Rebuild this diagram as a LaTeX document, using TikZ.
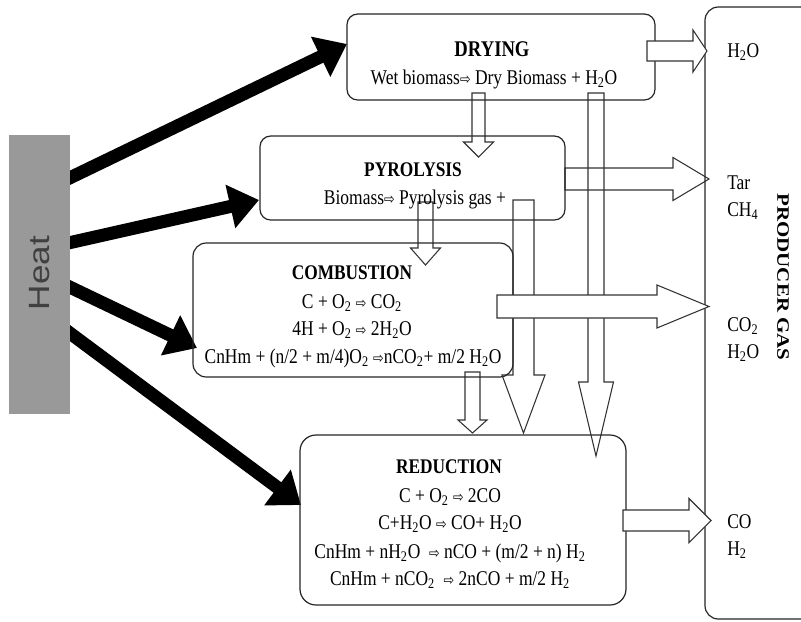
\documentclass[tikz,border=0pt]{standalone}
\usepackage{fontspec}
\usepackage{graphicx}
\setmainfont{Liberation Serif}
\newfontfamily\symf{DejaVu Sans}
\newfontfamily\heatf{Liberation Sans}
\usetikzlibrary{arrows.meta,fit}
\newcommand\vs[1]{\scalebox{1}[1.2]{#1}}
\newcommand\ar{{\symf\fontsize{9.5}{9.5}\selectfont ⇨}}
\newcommand\sub[1]{\textsubscript{#1}}
% horizontal block arrow: x0, x1 (head base), xtip, yc, shaft half, head half
\newcommand\hbarrow[7][]{\filldraw[barrow,#1] (#2,#5-#6) -- (#3,#5-#6) -- (#3,#5-#7) -- (#4,#5) -- (#3,#5+#7) -- (#3,#5+#6) -- (#2,#5+#6) -- cycle;}
% vertical block arrow: xc, y0, y1 (head base), ytip, shaft half, head half
\newcommand\vbarrow[7][]{\filldraw[barrow,#1] (#2-#6,#3) -- (#2-#6,#4) -- (#2-#7,#4) -- (#2,#5) -- (#2+#7,#4) -- (#2+#6,#4) -- (#2+#6,#3) -- cycle;}
\tikzset{
 box/.style={draw=black!85, line width=0.9pt, rounded corners=8pt, inner sep=0pt},
 barrow/.style={draw=black!80, line width=0.8pt, fill=white, line join=miter},
 heatarrow/.style={line width=9.75pt, -{Triangle[length=22pt,width=32pt]}},
 ttl/.style={font=\bfseries\fontsize{13}{15}\selectfont, anchor=base, inner sep=0pt},
 txt/.style={font=\fontsize{13.1}{15}\selectfont, anchor=base, inner sep=0pt},
 gtxt/.style={font=\fontsize{13.1}{15}\selectfont, anchor=base west, inner sep=0pt},
}
\begin{document}
\begin{tikzpicture}[x=0.75pt,y=-0.75pt]
\fill[white] (0,0) rectangle (801,622);
\useasboundingbox (0,0) rectangle (801,622);

% heat arrows
\coordinate (h1) at (55,185);
\coordinate (h2) at (55,246);
\coordinate (h3) at (55,280);
\coordinate (h4) at (55,322);
\coordinate (t1) at (347,44);
\coordinate (t2) at (259,200);
\coordinate (t3) at (197,348);
\coordinate (t4) at (301,505);
\draw[heatarrow] (h1) -- (t1);
\draw[heatarrow] (h2) -- (t2);
\draw[heatarrow] (h3) -- (t3);
\draw[heatarrow] (h4) -- (t4);

% heat block
\node[fill=black!40, inner sep=0pt, fit={(9,135)(70,414)}] (heat) {};
\node[rotate=90, font=\heatf\fontsize{22}{22}\selectfont, text=black!75] (heatlbl) at (40,273) {\scalebox{1.2}[1]{Heat}};

% block arrows (under boxes)
\vbarrow{596}{93}{382}{456}{8}{17.5}
\vbarrow{523.5}{200}{375}{433}{10.5}{21.5}
\hbarrow[fill=none]{565}{673}{709}{179}{11}{21.5}
\vbarrow{478.5}{93}{142}{157}{6.5}{15}
\vbarrow{425.5}{202}{248}{265}{7.5}{15}
\vbarrow{472.5}{372}{420}{433}{7.5}{14.5}

% boxes
\node[box, fit={(347,14)(655,100)}] (dry) {};
\node[box, fit={(260,136)(565,220)}] (pyr) {};
\node[box, rounded corners=10pt, fit={(193,243)(513,377)}] (comb) {};
\node[box, rounded corners=12pt, fit={(300,435)(626,605)}] (red) {};
\begin{scope}
\clip (0,0) rectangle (801,622);
\node[box, rounded corners=10pt, fit={(705,7)(860,619)}] (gas) {};
\end{scope}

% block arrows (over boxes)
\hbarrow{647}{693}{707}{51}{10}{21}
\hbarrow{497}{657}{709}{306.5}{11.5}{21.5}
\hbarrow{623}{689}{711}{520.5}{10.5}{22}

% texts
\node[ttl, font=\bfseries\fontsize{14}{16}\selectfont] (dryT) at (492,56) {\vs{DRYING}};
\node[txt] (dryL) at (494,84) {\vs{Wet biomass\ar{} Dry Biomass + H\sub{2}O}};
\node[ttl] (pyrT) at (413,176) {\vs{PYROLYSIS}};
\node[txt] (pyrL) at (415,204) {\vs{Biomass\ar{} Pyrolysis gas +}};
\node[ttl] (combT) at (352,279) {\vs{COMBUSTION}};
\node[txt] (combA) at (352,308) {\vs{C + O\sub{2} \ar{} CO\sub{2}}};
\node[txt] (combB) at (352,335) {\vs{4H + O\sub{2} \ar{} 2H\sub{2}O}};
\node[txt] (combC) at (353,363) {\vs{CnHm + (n/2 + m/4)O\sub{2} \ar{}nCO\sub{2}+ m/2 H\sub{2}O}};
\node[ttl] (redT) at (449,473) {\vs{REDUCTION}};
\node[txt] (redA) at (450,502) {\vs{C + O\sub{2} \ar{} 2CO}};
\node[txt] (redB) at (450,529) {\vs{C+H\sub{2}O \ar{} CO+ H\sub{2}O}};
\node[txt] (redC) at (450,558) {\vs{CnHm + nH\sub{2}O \ \ar{} nCO + (m/2 + n) H\sub{2}}};
\node[txt] (redD) at (450,585) {\vs{CnHm + nCO\sub{2} \ \ar{} 2nCO + m/2 H\sub{2}}};

\node[gtxt] (g1) at (727,57) {\vs{H\sub{2}O}};
\node[gtxt] (g2) at (727,189) {\vs{Tar}};
\node[gtxt] (g3) at (727,216) {\vs{CH\sub{4}}};
\node[gtxt] (g4) at (727,331) {\vs{CO\sub{2}}};
\node[gtxt] (g5) at (727,358) {\vs{H\sub{2}O}};
\node[gtxt] (g6) at (727,528) {\vs{CO}};
\node[gtxt] (g7) at (727,555) {\vs{H\sub{2}}};
\node[rotate=-90, font=\bfseries\fontsize{13.1}{15}\selectfont, inner sep=0pt] (pg) at (783,277) {\scalebox{1.2}[1]{PRODUCER GAS}};
\end{tikzpicture}
\end{document}
